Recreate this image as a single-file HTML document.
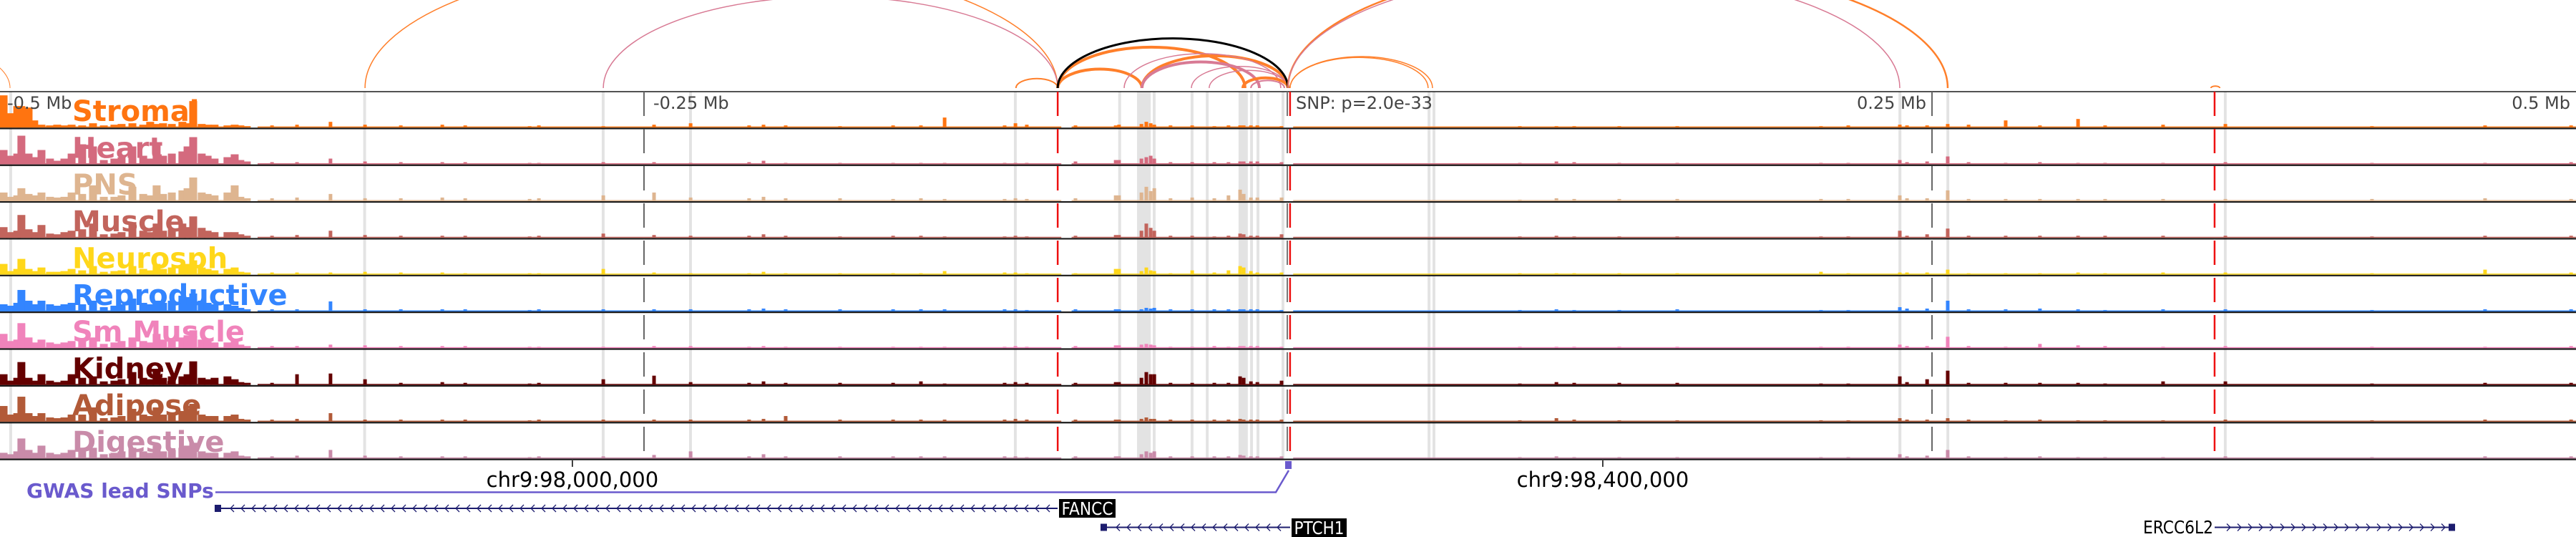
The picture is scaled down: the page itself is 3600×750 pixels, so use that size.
<!DOCTYPE html>
<html><head><meta charset="utf-8">
<style>
html,body{margin:0;padding:0;background:#fff;}
svg{display:block;}
text{font-family:"DejaVu Sans","Liberation Sans",sans-serif;}
</style></head>
<body>
<svg id="chart" width="3600" height="750" viewBox="0 0 3600 750" xmlns="http://www.w3.org/2000/svg"></svg>
<script>
// ---------- data ----------
const trackNames = ["Stromal","Heart","PNS","Muscle","Neurosph","Reproductive","Sm Muscle","Kidney","Adipose","Digestive"];
const trackColors = ["#ff7410","#d46a7e","#deb590","#c2645c","#ffd71a","#3385ff","#f083bb","#640000","#b25a38","#c98ba9"];

// bin positions in kb relative to lead SNP
const densePosKb = [-498.6,-496.1,-493.3,-491.7,-488.9,-486.7,-483.9,-480.6,-477.8,-475.0,-472.2,-468.1,-463.9,-459.7,-455.6,-452.8,-448.6,-444.4,-441.7,-439.2,-436.7,-433.3,-429.2,-427.2,-425.0,-421.7,-419.4,-416.7,-411.7,-408.9,-406.7,-404.2];
const sparsePosKb = [-394.4,-384.7,-371.7,-358.3,-344.4,-328.3,-319.4,-294.4,-290.8,-265.8,-246.1,-231.9,-209.2,-203.6,-195.0,-173.9,-153.3,-142.5,-133.3,-110.0,-105.8,-101.4,-82.5,-66.9,-65.6,-56.9,-55.0,-53.3,-51.9,-45.6,-37.2,-28.6,-23.1,-18.6,-17.2,-14.4,-11.9,-2.5,90.0,104.2,111.1,128.6,151.1,206.9,217.5,237.5,240.3,248.1,256.1,264.2,278.6,291.9,306.7,317.2,339.7,363.9,420.8,464.7,498.1];

const denseStromal = [45,20,30,30,28,10,4,3,4,3,4,3,6,3,4,5,6,4,8,5,6,5,8,6,37,5,4,4,3,4,3,2];
const denseHeart = [20,12,15,40,15,10,20,8,5,8,15,28,25,6,8,10,25,12,8,30,12,15,18,25,38,15,12,8,10,14,6,4];
const densePNS = [12,6,8,18,10,8,12,6,5,6,12,10,22,6,6,8,20,10,8,22,10,12,15,18,33,12,10,8,12,22,6,4];
const denseMuscle = [15,8,10,32,12,8,18,6,5,8,10,12,20,5,6,8,22,10,8,20,10,12,20,15,30,14,10,8,8,8,5,3];
const denseNeurosph = [15,5,8,22,8,5,10,4,4,5,8,6,12,4,5,6,12,8,6,15,8,10,12,15,20,10,8,6,8,10,4,3];
const denseRepro = [10,8,12,30,15,10,15,10,8,10,12,10,15,6,8,10,18,12,10,15,12,15,22,20,25,15,12,10,10,8,5,3];
const denseSmMuscle = [20,10,12,35,15,8,12,8,6,8,10,12,15,6,8,10,15,10,8,20,12,12,15,18,25,12,10,8,8,10,5,3];
const denseKidney = [15,6,10,32,10,6,15,6,4,6,15,10,12,5,6,8,18,10,8,20,10,12,12,15,33,10,8,10,12,8,4,3];
const denseAdipose = [22,10,12,35,12,8,12,6,5,6,10,10,20,5,6,8,18,10,8,20,10,12,15,18,25,10,8,8,8,10,4,3];
const denseDigestive = [8,6,10,28,12,8,18,8,6,8,12,10,15,6,8,10,15,10,8,18,10,12,15,18,22,10,8,8,8,10,4,3];

const sparseStromal = [3,4,8,4,3,4,3,2,3,2,4,6,3,4,3,2,3,3,14,3,6,4,3,3,4,5,8,6,4,3,3,2,3,3,3,3,3,2,2,2,2,2,2,2,3,4,3,3,5,4,10,3,12,3,4,5,2,3,3];
const sparseHeart = [3,3,8,4,3,3,3,2,2,3,3,2,3,5,2,2,2,2,2,2,2,2,4,6,6,8,10,12,8,3,3,3,3,4,4,4,4,3,2,4,3,2,2,2,2,6,3,4,11,3,2,3,2,2,2,3,2,2,3];
const sparsePNS = [4,5,10,4,4,5,4,3,4,8,12,5,4,6,4,4,3,4,3,3,4,3,4,8,8,12,20,14,18,4,5,4,8,16,10,5,5,5,2,4,3,3,3,3,3,8,4,4,15,3,3,3,3,3,3,3,3,4,3];
const sparseMuscle = [3,4,10,4,3,3,3,2,3,6,4,3,3,5,3,2,3,3,2,2,3,2,3,4,4,10,20,14,10,3,3,2,3,6,5,3,3,5,2,3,2,2,2,2,2,10,3,5,13,3,3,3,3,3,3,3,2,3,3];
const sparseNeurosph = [3,3,3,4,3,3,2,2,2,8,3,2,2,4,2,2,2,2,5,3,3,2,2,8,8,5,10,6,5,2,6,3,6,12,10,5,3,3,2,2,2,2,2,4,2,3,3,3,7,2,2,2,3,2,3,3,2,7,3];
const sparseRepro = [3,3,14,3,3,3,3,2,3,3,3,3,3,4,3,3,3,3,3,3,3,2,3,3,3,3,5,4,5,3,3,3,3,3,3,3,3,2,2,3,2,2,3,2,2,6,4,4,15,3,3,4,3,2,3,3,2,3,3];
const sparseSmMuscle = [3,3,5,4,3,3,3,2,2,2,3,3,2,3,2,2,2,2,2,2,3,2,3,4,4,5,6,5,4,2,2,3,2,3,3,3,3,2,2,2,2,2,2,2,2,5,3,3,16,3,2,6,4,3,2,3,2,2,3];
const sparseKidney = [3,15,16,8,3,4,3,2,3,8,13,4,3,5,3,3,3,5,2,3,4,3,3,4,4,10,18,15,15,3,3,3,3,12,10,5,4,6,2,4,3,3,3,2,2,12,4,8,20,3,3,3,3,2,5,5,2,3,3];
const sparseAdipose = [3,4,12,3,3,3,3,2,3,3,3,3,3,4,8,3,3,3,3,3,4,3,3,3,3,4,6,4,4,3,3,3,3,4,3,3,3,3,2,5,3,2,2,2,2,5,3,3,5,3,2,3,2,2,2,3,2,3,3];
const sparseDigestive = [3,4,12,4,3,3,3,2,3,3,5,10,3,6,3,3,3,3,3,3,3,2,3,3,3,6,10,8,10,3,3,3,3,5,4,3,3,3,2,3,2,2,2,2,2,6,3,4,12,3,2,3,2,2,2,3,2,3,3];

const denseValues = [denseStromal,denseHeart,densePNS,denseMuscle,denseNeurosph,denseRepro,denseSmMuscle,denseKidney,denseAdipose,denseDigestive];
const sparseValues = [sparseStromal,sparseHeart,sparsePNS,sparseMuscle,sparseNeurosph,sparseRepro,sparseSmMuscle,sparseKidney,sparseAdipose,sparseDigestive];

// low-signal coverage intervals (kb)
const coverageStartKb = [-500,-400,-84,2];
const coverageEndKb = [-404,-88,-2,500];

// highlighted regions (kb start, kb end)
const highlightStartKb = [-496.4,-359.0,-266.4,-232.5,-106.4,-65.9,-58.6,-52.5,-37.8,-31.9,-19.2,-14.7,-12.2,-2.5,54.2,56.1,237.0,255.6,363.3];
const highlightEndKb = [-495.3,-357.9,-265.3,-231.4,-105.3,-64.8,-53.3,-51.4,-36.7,-30.8,-15.6,-13.6,-11.1,-1.4,55.3,57.2,238.1,256.7,364.4];

// links (kb)
const linkStartKb = [-583,-358.3,-265.8,-105.6,-89.4,-89.4,-89.4,-56.7,-56.7,-63.6,-37.5,-30.6,-17.5,-14.4,-89.4,0,0,0.8,0.8,358.3];
const linkEndKb = [-496.1,-89.4,-89.4,-89.4,-56.7,-16.7,0,0,-11.1,-2.8,0,0,0,-1.4,0,256.1,237.5,56.1,54.4,361.7];
const linkKind = ["o","o","p","o","o","o","p","o","p","p","p","p","o","p","k","o","p","o","o","o"];
const linkWeight = [1,1.5,1.5,2,4,4,2,4,4,1.5,1.5,1.5,4,2,3,2.5,1.5,1.5,1.5,2];

// axis
const axisTickKb = [-500,-250,250,500];
const axisTickLabels = ["-0.5 Mb","-0.25 Mb","0.25 Mb","0.5 Mb"];
const coordTickKb = [-277.8,122.2];
const coordTickLabels = ["chr9:98,000,000","chr9:98,400,000"];
const markerKb = [-89.4,0.8,359.7];
const snpKb = 0;

// ---------- scales ----------
const X0 = 1800, PXKB = 3.6;
function xs(kb){ return X0 + kb*PXKB; }
const TOP = 128, TH = 51.36, NT = 10;

const svg = document.getElementById('chart');
const NS = "http://www.w3.org/2000/svg";
function mk(tag, attrs, parent){
  const e = document.createElementNS(NS, tag);
  for (const k in attrs) e.setAttribute(k, attrs[k]);
  (parent||svg).appendChild(e);
  return e;
}

// ---------- highlights ----------
const gHi = mk('g', {});


for (let i=0;i<highlightStartKb.length;i++){
  const x1 = xs(highlightStartKb[i]), x2 = xs(highlightEndKb[i]);
  const r = mk('rect', {x:x1, y:TOP, width:Math.max(3,x2-x1), height:TH*NT, fill:'#e3e3e3'}, gHi);
  
  
}

// ---------- tracks ----------
const allPos = densePosKb.concat(sparsePosKb);
for (let t=0;t<NT;t++){
  const g = mk('g', {});
  
  
  const base = TOP + TH*(t+1) - 1.2;
  for (let s=0;s<coverageStartKb.length;s++){
    const cv = mk('rect', {x:xs(coverageStartKb[s]), y:base-1.5, width:xs(coverageEndKb[s])-xs(coverageStartKb[s]), height:1.5, fill:trackColors[t]}, g);
    
    
  }
  const vals = denseValues[t].concat(sparseValues[t]);
  for (let i=0;i<allPos.length;i++){
    const v = vals[i]; if (v===undefined) continue;
    const w = i < densePosKb.length ? 11 : 5;
    const b = mk('rect', {x:xs(allPos[i])-w/2, y:base-v, width:w, height:v, fill:trackColors[t]}, g);
    
    
  }
  const lbl = mk('text', {x:101, y:TOP+TH*t+41, fill:trackColors[t], 'font-size':40, 'font-weight':'bold'}, g);
  lbl.textContent = trackNames[t];
  
  
}

// track separator lines
for (let t=0;t<=NT;t++){
  const y = TOP + TH*t;
  const l = mk('line', {x1:0, x2:3600, y1:y, y2:y, stroke:'#1a1a1a', 'stroke-width': t===0?1.5:2.2});
  
  
}

// axis ticks + labels
for (let i=0;i<axisTickKb.length;i++){
  const x = xs(axisTickKb[i]);
  if (i===1 || i===2){
    const d = mk('line', {x1:x, x2:x, y1:TOP, y2:TOP+TH*NT, stroke:'#666', 'stroke-width':2, 'stroke-dasharray':'34 18'});
    
    
  }
  let tx, anchor;
  if (i===0){ tx = 10; anchor='start'; }
  else if (i===1){ tx = x+13; anchor='start'; }
  else { tx = x-8; anchor='end'; }
  const lb = mk('text', {x:tx, y:152, 'font-size':24, fill:'#444', 'text-anchor':anchor});
  lb.textContent = axisTickLabels[i];
  
  
}
// SNP line
const snpGray = mk('line', {x1:xs(snpKb)-1, x2:xs(snpKb)-1, y1:TOP, y2:TOP+TH*NT, stroke:'#777', 'stroke-width':2, 'stroke-dasharray':'34 18'});


for (let i=0;i<markerKb.length;i++){
  const x = xs(markerKb[i]);
  const r = mk('line', {x1:x, x2:x, y1:TOP, y2:TOP+TH*NT, stroke:'#ee1111', 'stroke-width':2.5, 'stroke-dasharray':'34 18'});
  
  
}
const snpLbl = mk('text', {x:1811, y:152, 'font-size':24, fill:'#444'});
snpLbl.textContent = 'SNP: p=2.0e-33';



// ---------- links ----------
const BASE = 123;
const gL = mk('g', {fill:'none'});


const linkColor = {o:'#ff7f2a', p:'#d87a94', k:'#000000'};
for (let i=0;i<linkStartKb.length;i++){
  const x1 = xs(linkStartKb[i]), x2 = xs(linkEndKb[i]);
  const h = Math.abs(x2-x1)/2;
  const H = h*0.46 - h*h*0.00018;
  const p = mk('path', {d:`M${x1},${BASE} A${h},${H} 0 0 1 ${x2},${BASE}`, stroke:linkColor[linkKind[i]], 'stroke-width':linkWeight[i]}, gL);
  
  
}

// ---------- coordinates ----------
for (let i=0;i<coordTickKb.length;i++){
  const x = xs(coordTickKb[i]);
  const tk = mk('line', {x1:x, x2:x, y1:643, y2:652, stroke:'#000', 'stroke-width':1.5});
  
  
  const lb = mk('text', {x:x, y:680, 'font-size':29, fill:'#000', 'text-anchor':'middle'});
  lb.textContent = coordTickLabels[i];
  
  
}

// ---------- GWAS track ----------
const gw = mk('text', {x:37, y:695, 'font-size':28, 'font-weight':'bold', fill:'#6a5acd'});
gw.textContent = 'GWAS lead SNPs';


const gwl = mk('polyline', {points:`301,687.5 1783,687.5 ${xs(snpKb)+1},657`, fill:'none', stroke:'#6a5acd', 'stroke-width':2.5});


const snpBox = mk('rect', {x:xs(snpKb)-4, y:644, width:9, height:11, fill:'#6a5acd'});



// ---------- genes ----------
function gene(name, x1, x2, y, strand){
  const g = mk('g', {});
  
  
  mk('line', {x1:x1, x2:x2, y1:y, y2:y, stroke:'#1c1c6e', 'stroke-width':2}, g);
  const bx = strand<0 ? x1 : x2-8;
  mk('rect', {x:bx, y:y-5, width:9, height:10, fill:'#1c1c6e'}, g);
  let s = '';
  for (let x = x1+22; x < x2-10; x += 15){
    if (strand<0) s += `M${x+5},${y-5} L${x},${y} L${x+5},${y+5} `;
    else s += `M${x-5},${y-5} L${x},${y} L${x-5},${y+5} `;
  }
  mk('path', {d:s, stroke:'#1c1c6e', 'stroke-width':1.3, fill:'none'}, g);
  return g;
}
const fancc = gene('FANCC', 300, 1478, 710, -1);
const fbox = mk('rect', {x:1480, y:697, width:79, height:26, fill:'#000'}, fancc);


const ft = mk('text', {x:1519.5, y:719, 'font-size':25, fill:'#fff', 'text-anchor':'middle', textLength:72, lengthAdjust:'spacingAndGlyphs'}, fancc);
ft.textContent = 'FANCC';



const ptch = gene('PTCH1', 1538, 1803, 736.5, -1);
const pbox = mk('rect', {x:1805, y:724, width:77, height:26, fill:'#000'}, ptch);


const pt = mk('text', {x:1843.5, y:746, 'font-size':25, fill:'#fff', 'text-anchor':'middle', textLength:70, lengthAdjust:'spacingAndGlyphs'}, ptch);
pt.textContent = 'PTCH1';



const erc = gene('ERCC6L2', 3095, 3430, 736.5, 1);
const et = mk('text', {x:3093, y:745, 'font-size':25, fill:'#000', 'text-anchor':'end', textLength:98, lengthAdjust:'spacingAndGlyphs'}, erc);
et.textContent = 'ERCC6L2';


</script>
</body></html>
